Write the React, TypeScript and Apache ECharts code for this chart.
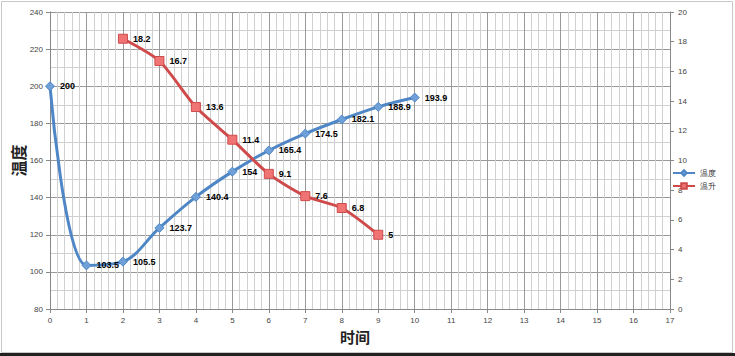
import React, { useEffect, useRef } from "react";
import * as echarts from "echarts";

const tempX = [0, 1, 2, 3, 4, 5, 6, 7, 8, 9, 10];
const tempValues = [200, 103.5, 105.5, 123.7, 140.4, 154, 165.4, 174.5, 182.1, 188.9, 193.9];
const riseX = [2, 3, 4, 5, 6, 7, 8, 9];
const riseValues = [18.2, 16.7, 13.6, 11.4, 9.1, 7.6, 6.8, 5];
const seriesNames = ["温度", "温升"];

export default function App() {
  const ref = useRef<HTMLDivElement>(null);
  useEffect(() => {
    if (!ref.current) return;
    const chart = echarts.init(ref.current, null, { renderer: "svg" });
    const labelStyle = {
      show: true,
      position: "right" as const,
      distance: 5,
      fontSize: 9,
      fontWeight: "bold" as const,
      color: "#000",
      fontFamily: "Liberation Sans, Arial, sans-serif",
    };
    chart.setOption({
      animation: false,
      textStyle: { fontFamily: "Liberation Sans, Arial, sans-serif" },
      graphic: [
        {
          type: "rect",
          shape: { x: 1.5, y: 1.5, width: 731, height: 351 },
          style: { fill: "none", stroke: "#c8c8c8", lineWidth: 1 },
          silent: true,
        },
        {
          type: "rect",
          shape: { x: 0, y: 353, width: 735, height: 3 },
          style: { fill: "#222" },
          silent: true,
        },
      ],
      grid: { left: 50, right: 65, top: 12, bottom: 47, outerBoundsMode: "none", containLabel: false },
      legend: {
        orient: "vertical",
        right: 14,
        top: 164,
        itemWidth: 22,
        itemHeight: 7,
        itemGap: 5,
        textStyle: { fontSize: 8, color: "#333" },
        data: seriesNames,
      },
      xAxis: {
        type: "value",
        min: 0,
        max: 17,
        interval: 1,
        name: "时间",
        nameLocation: "middle",
        nameGap: 20,
        nameMoveOverlap: false,
        nameTextStyle: {
          fontSize: 15,
          fontWeight: "bold",
          color: "#222",
          fontFamily: "Noto Sans CJK SC",
          padding: [0, 10, 0, 0],
        },
        axisLine: { show: true, lineStyle: { color: "#888" } },
        axisTick: { show: true, length: 4, lineStyle: { color: "#888" } },
        axisLabel: { fontSize: 8, color: "#444", margin: 7 },
        splitLine: { show: true, lineStyle: { color: "#999", width: 1 } },
        minorTick: { show: false, splitNumber: 5 },
        minorSplitLine: { show: true, lineStyle: { color: "#d0d0d0", width: 1 } },
      },
      yAxis: [
        {
          type: "value",
          min: 80,
          max: 240,
          interval: 20,
          name: "温度",
          nameLocation: "middle",
          nameGap: 24,
          nameMoveOverlap: false,
          nameRotate: 90,
          nameTextStyle: { fontSize: 16, fontWeight: "bold", color: "#222", fontFamily: "Noto Sans CJK SC" },
          axisLine: { show: true, lineStyle: { color: "#888" } },
          axisTick: { show: true, length: 4, lineStyle: { color: "#888" } },
          axisLabel: { fontSize: 8, color: "#444", margin: 7 },
          splitLine: { show: true, lineStyle: { color: "#999", width: 1 } },
          minorTick: { show: false, splitNumber: 2 },
          minorSplitLine: { show: true, lineStyle: { color: "#d0d0d0", width: 1 } },
        },
        {
          type: "value",
          min: 0,
          max: 20,
          interval: 2,
          position: "right",
          axisLine: { show: true, lineStyle: { color: "#888" } },
          axisTick: { show: true, length: 4, lineStyle: { color: "#888" } },
          axisLabel: { fontSize: 8, color: "#444", margin: 8 },
          splitLine: { show: false },
        },
      ],
      series: [
        {
          name: seriesNames[0],
          type: "line",
          yAxisIndex: 0,
          smooth: 0.35,
          data: tempX.map((x, i) => [x, tempValues[i]]),
          symbol: "diamond",
          symbolSize: 9,
          lineStyle: { color: "#4f87c6", width: 3 },
          itemStyle: { color: "#6fa0d8", borderColor: "#4f87c6", borderWidth: 1 },
          label: labelStyle,
        },
        {
          name: seriesNames[1],
          type: "line",
          yAxisIndex: 1,
          smooth: 0.25,
          data: riseX.map((x, i) => [x, riseValues[i]]),
          symbol: "rect",
          symbolSize: 9,
          lineStyle: { color: "#cf4b4b", width: 3 },
          itemStyle: { color: "#f07474", borderColor: "#cf4b4b", borderWidth: 1 },
          label: labelStyle,
        },
      ],
    });
    return () => chart.dispose();
  }, []);
  return <div ref={ref} style={{ width: 735, height: 356, position: "absolute", left: 0, top: 0 }} />;
}
